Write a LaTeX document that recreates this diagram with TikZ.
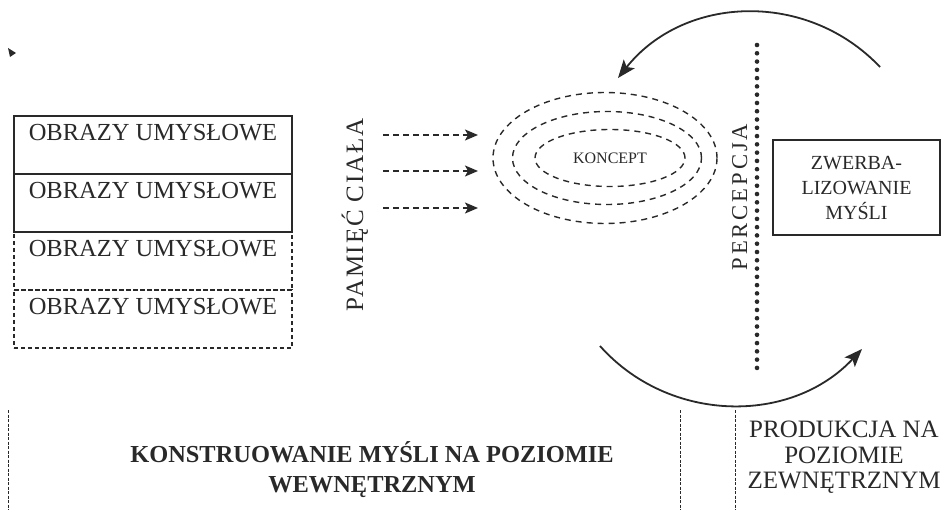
\documentclass[tikz,border=0pt]{standalone}
\usepackage{fontspec}
\setmainfont{Liberation Serif}
\usetikzlibrary{arrows.meta,shapes.geometric}
\definecolor{ink}{rgb}{0.16,0.16,0.16}
\begin{document}
\begin{tikzpicture}[x=1pt,y=-1pt,
  every node/.style={text=ink, inner sep=0pt, outer sep=0pt},
  boxbase/.style={draw=ink, rectangle, minimum width=278pt, minimum height=58pt, anchor=north west},
  solidbox/.style={boxbase, line width=1.4pt},
  dashbox/.style={boxbase, line width=1.1pt, dash pattern=on 4pt off 3pt},
  boxtext/.style={anchor=base, font=\fontsize{24.5}{27}\selectfont},
  ring/.style={draw=ink, ellipse, line width=1.4pt, dash pattern=on 6pt off 5pt},
  dasharrow/.style={draw=ink, line width=1.5pt, dash pattern=on 6pt off 4pt, -{Stealth[length=13pt,width=11pt,inset=3pt]}},
  arcarrow/.style={draw=ink, line width=1.8pt, -{Stealth[length=18pt,width=14pt,inset=4pt]}},
  divider/.style={draw=ink, line width=0.8pt, dash pattern=on 3pt off 1.5pt},
]
\useasboundingbox (0,0) rectangle (952,510);

% stray mark
\fill[ink] (8,48) -- (16,53) -- (10,57) -- cycle;

% stacked boxes
\node[dashbox] (b3) at (14,232) {};
\node[dashbox] (b4) at (14,290) {};
\node[solidbox] (b1) at (14,116) {};
\node[solidbox] (b2) at (14,174) {};
\node[boxtext] (t1) at (153,141) {OBRAZY UMYSŁOWE};
\node[boxtext] (t2) at (153,199) {OBRAZY UMYSŁOWE};
\node[boxtext] (t3) at (153,257) {OBRAZY UMYSŁOWE};
\node[boxtext] (t4) at (153,314) {OBRAZY UMYSŁOWE};

% body memory
\node[rotate=90, anchor=base, font=\fontsize{25}{28}\selectfont\addfontfeature{LetterSpace=7}] (pam) at (363,215) {PAMIĘĆ CIAŁA};

\coordinate (a1s) at (383,135); \coordinate (a1e) at (478,135);
\coordinate (a2s) at (383,171); \coordinate (a2e) at (478,171);
\coordinate (a3s) at (383,208); \coordinate (a3e) at (478,208);
\draw[dasharrow] (a1s) -- (a1e);
\draw[dasharrow] (a2s) -- (a2e);
\draw[dasharrow] (a3s) -- (a3e);

% concept rings
\node[ring, minimum width=224pt, minimum height=131pt] (e1) at (605,158) {};
\node[ring, minimum width=189pt, minimum height=93pt] (e2) at (607,158) {};
\node[ring, minimum width=150pt, minimum height=57pt, font=\fontsize{16}{18}\selectfont] (e3) at (610,158) {KONCEPT};

% perception line
\coordinate (p1) at (757,45); \coordinate (p2) at (757,368);
\draw[ink, line width=4.6pt, line cap=round, dash pattern=on 0pt off 8.28pt] (p1) -- (p2);
\node[rotate=90, anchor=base, font=\fontsize{22.6}{26}\selectfont\addfontfeature{LetterSpace=13}] (perc) at (747,197) {PERCEPCJA};

% verbalisation box
\node[draw=ink, line width=1.4pt, rectangle, minimum width=167pt, minimum height=95pt, align=center,
      font=\fontsize{20}{25}\selectfont] (zw) at (856.5,187.5) {ZWERBA-\\LIZOWANIE\\MYŚLI};

% arcs
\coordinate (ta) at (880,67); \coordinate (tb) at (618,78);
\draw[arcarrow] (ta) .. controls (807,-10) and (684,-5) .. (tb);
\coordinate (ba) at (600,346); \coordinate (bb) at (862,349);
\draw[arcarrow] (ba) .. controls (669,423.5) and (791,425) .. (bb);

% dividers
\coordinate (d1a) at (8,410); \coordinate (d1b) at (8,510);
\coordinate (d2a) at (680,410); \coordinate (d2b) at (680,510);
\coordinate (d3a) at (735,410); \coordinate (d3b) at (735,510);
\draw[divider] (d1a) -- (d1b);
\draw[divider] (d2a) -- (d2b);
\draw[divider] (d3a) -- (d3b);

% bottom labels
\node[align=center, font=\bfseries\fontsize{24.4}{30}\selectfont] (inner) at (372,470)
  {KONSTRUOWANIE MYŚLI NA POZIOMIE\\WEWNĘTRZNYM};
\node[align=center, font=\fontsize{25}{25.5}\selectfont] (outer) at (844,457.5)
  {PRODUKCJA NA\\POZIOMIE\\ZEWNĘTRZNYM};
\end{tikzpicture}
\end{document}
